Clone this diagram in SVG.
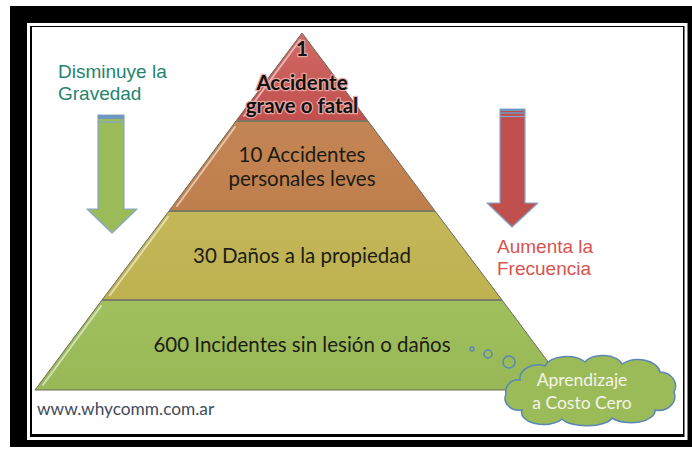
<svg xmlns="http://www.w3.org/2000/svg" width="692" height="453" viewBox="0 0 692 453">
<defs>
<style>
.lay{stroke:#6b6b5a;stroke-width:1}
.hl{stroke:#ffffff;stroke-opacity:0.55;stroke-width:2;fill:none;stroke-linecap:round}
.sep{stroke:#7a7a6a;stroke-width:1.5}
.pt{font-family:Lato,"Liberation Sans",sans-serif;font-size:20.5px;fill:#1c1c14;text-anchor:middle}
.pb{font-family:Lato,"Liberation Sans",sans-serif;font-size:20.5px;font-weight:bold;fill:#111;text-anchor:middle;stroke:#e9a6a2;stroke-width:2.5;paint-order:stroke;stroke-linejoin:round}
.side{font-family:"Liberation Sans",Arial,sans-serif;font-size:19px}
.arw{stroke:#86a6cf;stroke-width:1.2;stroke-linejoin:round}
.bub{fill:#9bbb59;stroke:#5b87b5;stroke-width:1.5}
.ct{font-family:Lato,"Liberation Sans",sans-serif;font-size:17.5px;fill:#f4f4ea;text-anchor:middle}
</style>
<linearGradient id="gR" x1="0" y1="0" x2="0" y2="1"><stop offset="0" stop-color="#d06a66"/><stop offset="1" stop-color="#c0504d"/></linearGradient>
<linearGradient id="gO" x1="0" y1="0" x2="0" y2="1"><stop offset="0" stop-color="#c48554"/><stop offset="1" stop-color="#bf7f4d"/></linearGradient>
<linearGradient id="gY" x1="0" y1="0" x2="0" y2="1"><stop offset="0" stop-color="#c3b758"/><stop offset="1" stop-color="#bdb150"/></linearGradient>
<linearGradient id="gG" x1="0" y1="0" x2="0" y2="1"><stop offset="0" stop-color="#a0c05e"/><stop offset="1" stop-color="#98b857"/></linearGradient>
</defs>

<!-- frame -->
<rect x="10" y="6" width="682" height="441" fill="#000"/>
<rect x="28.5" y="24.5" width="657.5" height="414" fill="none" stroke="#fff" stroke-width="3"/>
<rect x="32" y="27" width="651" height="407" fill="#fff"/>

<!-- pyramid -->
<g id="layer4">
<polygon class="lay" points="102,300 502,300 569,390 35,390" fill="url(#gG)"/>
<line class="hl" x1="101" y1="306" x2="43" y2="385"/>
<text class="pt" x="302" y="352">600 Incidentes sin lesión o daños</text>
</g>
<g id="layer3">
<polygon class="lay" points="169,211 435,211 502,300 102,300" fill="url(#gY)"/>
<line class="hl" x1="168" y1="217" x2="110" y2="295"/>
<text class="pt" x="302" y="263">30 Daños a la propiedad</text>
</g>
<g id="layer2">
<polygon class="lay" points="236,121 368,121 435,211 169,211" fill="url(#gO)"/>
<line class="hl" x1="235" y1="127" x2="177" y2="206"/>
<text class="pt" x="302" y="162">10 Accidentes</text>
<text class="pt" x="302" y="186">personales leves</text>
</g>
<g id="layer1">
<polygon class="lay" points="302,33 236,121 368,121" fill="url(#gR)"/>
<line class="hl" x1="300" y1="40" x2="244" y2="116"/>
<text class="pb" x="302" y="56">1</text>
<text class="pb" x="302" y="90">Accidente</text>
<text class="pb" x="302" y="113">grave o fatal</text>
</g>
<g id="separators">
<line class="sep" x1="236" y1="121" x2="368" y2="121"/>
<line class="sep" x1="169" y1="211" x2="435" y2="211"/>
<line class="sep" x1="102" y1="300" x2="502" y2="300"/>
</g>

<!-- left arrow -->
<g id="left-arrow">
<polygon class="arw" points="98,115 124,115 124,209 137,209 112,233 87,209 98,209" fill="#9bbb59"/>
<rect x="98" y="115" width="26" height="4" fill="#6f97c0"/>
<line x1="98" y1="122" x2="124" y2="122" stroke="#86a6cf" stroke-width="1.2"/>
<text class="side" x="58" y="78" fill="#1f8470">Disminuye la</text>
<text class="side" x="58" y="100" fill="#1f8470">Gravedad</text>
</g>

<!-- right arrow -->
<g id="right-arrow">
<polygon class="arw" points="500,109 525,109 525,203 538,203 512,227 487,203 500,203" fill="#c0504d"/>
<line x1="500" y1="110" x2="525" y2="110" stroke="#6f97c0" stroke-width="2"/>
<line x1="500" y1="113" x2="525" y2="113" stroke="#6f97c0" stroke-width="1.5"/>
<line x1="500" y1="116.5" x2="525" y2="116.5" stroke="#86a6cf" stroke-width="1.2"/>
<text class="side" x="497" y="253" fill="#d9534f">Aumenta la</text>
<text class="side" x="497" y="275" fill="#d9534f">Frecuencia</text>
</g>

<!-- thought cloud -->
<g id="cloud">
<circle class="bub" cx="472" cy="349" r="2"/>
<circle class="bub" cx="488" cy="354" r="4"/>
<circle class="bub" cx="509" cy="362" r="6"/>
<path class="bub" d="M520,380 A18,14 0 0 1 545,366 A22,12 0 0 1 585,362 A20,12 0 0 1 622,364 A22,14 0 0 1 660,372 A16,14 0 0 1 674,392 A16,14 0 0 1 655,410 A24,12 0 0 1 612,418 A26,10 0 0 1 562,419 A22,12 0 0 1 522,410 A14,12 0 0 1 506,394 A12,12 0 0 1 520,380 Z"/>
<text class="ct" x="582" y="386">Aprendizaje</text>
<text class="ct" x="582" y="409">a Costo Cero</text>
</g>

<text x="37" y="415" font-family="Lato,'Liberation Sans',sans-serif" font-size="17.3" fill="#3f4a5a">www.whycomm.com.ar</text>
</svg>
